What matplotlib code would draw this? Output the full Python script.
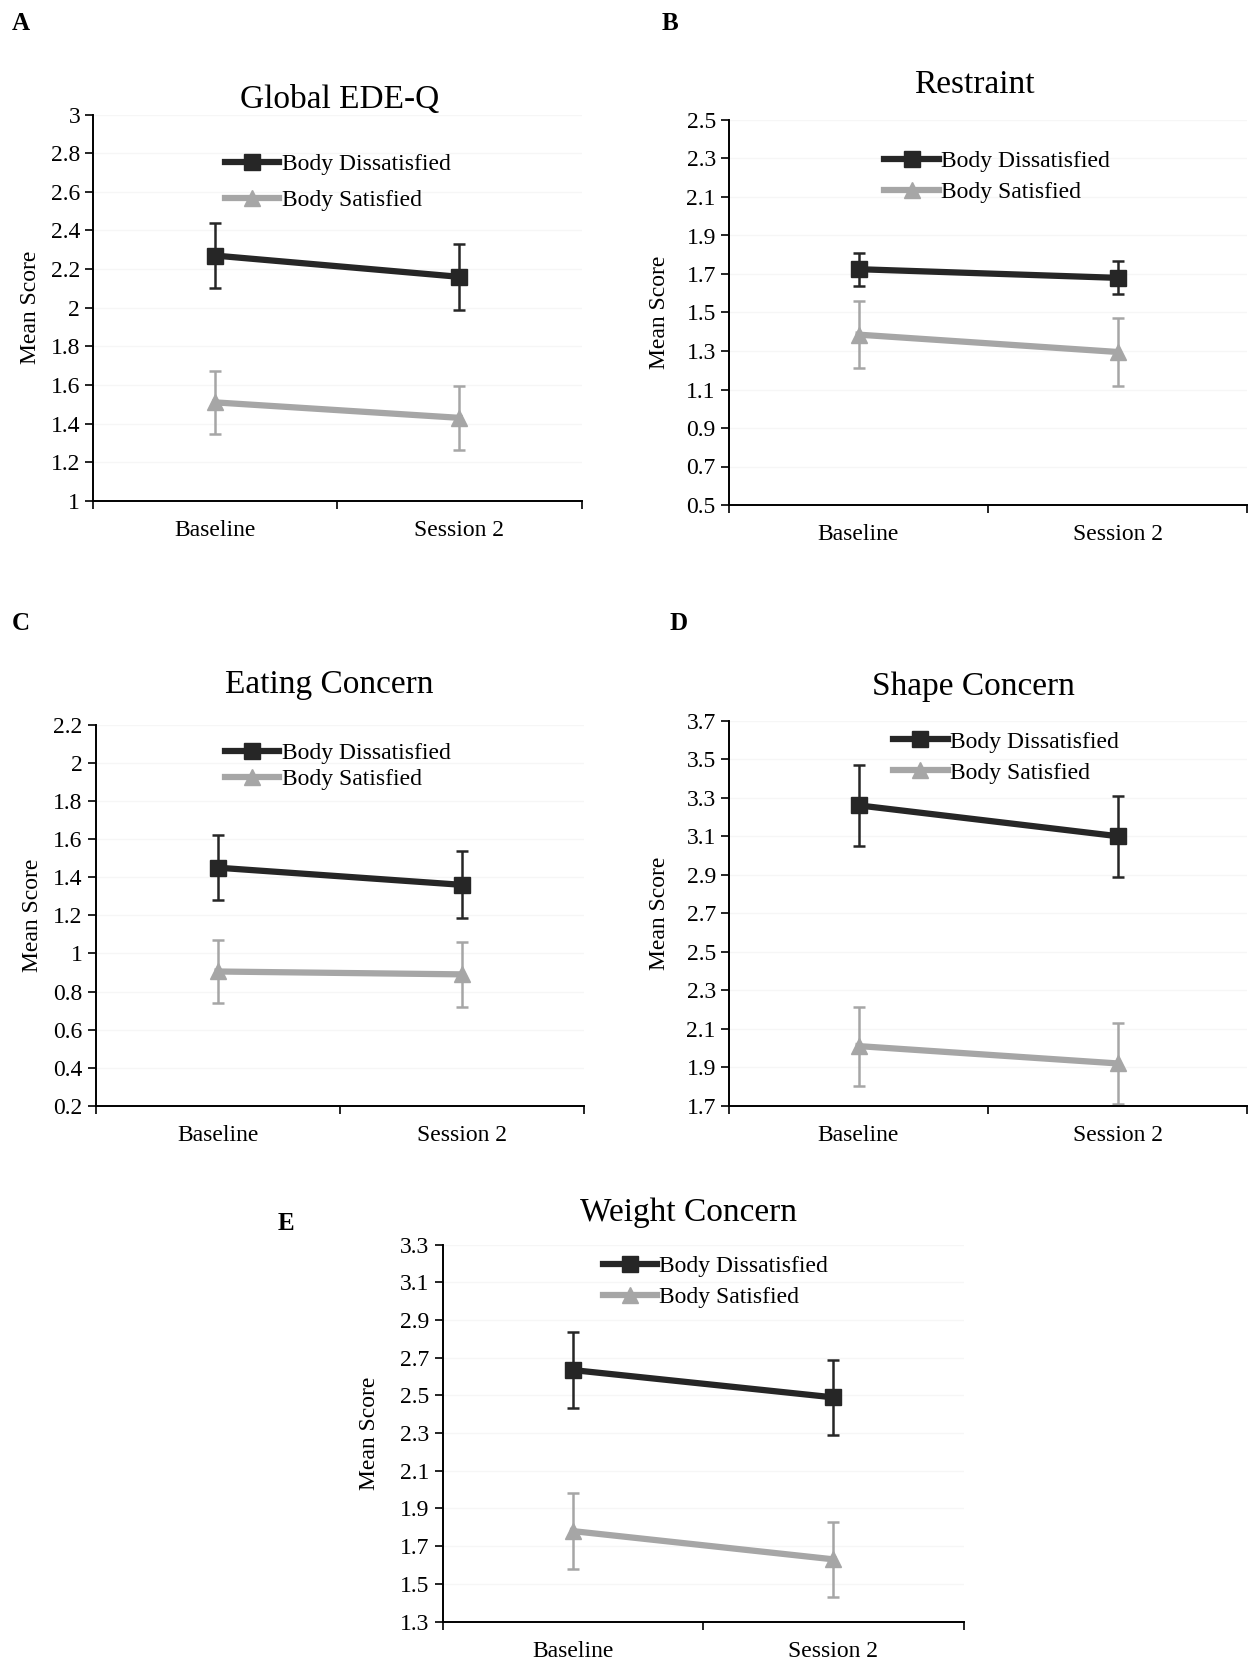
import numpy as np
import matplotlib.pyplot as plt
from matplotlib.lines import Line2D

plt.rcParams['font.family'] = ['Liberation Serif', 'DejaVu Serif']

sessions = ["Baseline", "Session 2"]
groups = ["Body Dissatisfied", "Body Satisfied"]
titles = ["Global EDE-Q", "Restraint", "Eating Concern", "Shape Concern", "Weight Concern"]
letters = ["A", "B", "C", "D", "E"]

# means and error half-widths, [dissatisfied, satisfied] x [baseline, session 2]
global_mean = [[2.27, 2.16], [1.51, 1.43]]
global_err = [[0.17, 0.17], [0.165, 0.165]]
restraint_mean = [[1.725, 1.68], [1.385, 1.295]]
restraint_err = [[0.085, 0.085], [0.175, 0.175]]
eating_mean = [[1.45, 1.36], [0.905, 0.89]]
eating_err = [[0.17, 0.175], [0.165, 0.17]]
shape_mean = [[3.26, 3.10], [2.01, 1.92]]
shape_err = [[0.21, 0.21], [0.205, 0.21]]
weight_mean = [[2.635, 2.49], [1.78, 1.63]]
weight_err = [[0.2, 0.2], [0.2, 0.2]]

means = [global_mean, restraint_mean, eating_mean, shape_mean, weight_mean]
errs = [global_err, restraint_err, eating_err, shape_err, weight_err]
yticks = [np.arange(1, 3.01, 0.2), np.arange(0.5, 2.51, 0.2), np.arange(0.2, 2.21, 0.2),
          np.arange(1.7, 3.71, 0.2), np.arange(1.3, 3.31, 0.2)]

W, H = 1248, 1664
# axes boxes in pixels: left, top, right, bottom
boxes = [(93.4, 114.6, 581.5, 500.9), (729, 120, 1247, 505), (95.5, 724.8, 583.7, 1105.8),
         (729, 720.6, 1247, 1105.8), (442.5, 1244.8, 963.6, 1621.5)]
title_xy = [(339.6, 99.7), (974, 84.9), (329, 685), (973, 686.5), (688.7, 1213)]
letter_xy = [(21, 23), (670, 23), (21, 623), (679, 623), (286, 1224)]
ylabel_pad = [7, 12, 7, 12, 14]
legend_pos = [(0.27, 0.899, 0.6), (0.30, 0.920, 0.4), (0.265, 0.953, 0.2),
              (0.317, 0.973, 0.4), (0.3075, 0.972, 0.4)]

colors = ["#262626", "#a6a6a6"]
markers = ["s", "^"]

fig = plt.figure(figsize=(W / 100, H / 100), dpi=100)

for i in range(5):
    l, t, r, b = boxes[i]
    ax = fig.add_axes([l / W, 1 - b / H, (r - l) / W, (b - t) / H])
    x = np.array([0.5, 1.5])
    for g in range(2):
        ax.errorbar(x, means[i][g], yerr=errs[i][g], color=colors[g], lw=4.5,
                    marker=markers[g], ms=12, elinewidth=1.8, capsize=4, capthick=1.8,
                    zorder=3 - g)
    ax.set_xlim(0, 2)
    yt = yticks[i]
    ax.set_ylim(yt[0], yt[-1])
    ax.set_yticks(yt)
    ax.set_yticklabels([("%.1f" % v).rstrip("0").rstrip(".") for v in yt])
    ax.set_xticks([0, 1, 2])
    ax.set_xticklabels([])
    ax.set_xticks(x, minor=True)
    ax.set_xticklabels(sessions, minor=True)
    ax.tick_params(axis="x", which="minor", length=0, pad=14, labelsize=17)
    ax.tick_params(axis="x", which="major", length=6, width=1.2, direction="out")
    ax.tick_params(axis="y", length=6, width=1.2, direction="out", labelsize=17)
    ax.grid(axis="y", color="#f6f6f6", lw=1)
    ax.set_axisbelow(True)
    for s in ["top", "right"]:
        ax.spines[s].set_visible(False)
    ax.spines["left"].set_linewidth(1.4)
    ax.spines["bottom"].set_linewidth(1.4)
    ax.set_ylabel("Mean Score", fontsize=17, labelpad=ylabel_pad[i])

    handles = [Line2D([], [], color=colors[g], lw=4.5, marker=markers[g], ms=11)
               for g in range(2)]
    lx, ly, ls = legend_pos[i]
    ax.legend(handles, groups, loc="upper left", bbox_to_anchor=(lx, ly), frameon=False,
              fontsize=17, handlelength=2.3, handletextpad=0.1, borderpad=0,
              borderaxespad=0, labelspacing=ls)

    fig.text(title_xy[i][0] / W, 1 - title_xy[i][1] / H, titles[i], ha="center", va="center",
             fontsize=24)
    fig.text(letter_xy[i][0] / W, 1 - letter_xy[i][1] / H, letters[i], ha="center",
             va="center", fontsize=18, fontweight="bold")

plt.savefig("out.png", dpi=100)
